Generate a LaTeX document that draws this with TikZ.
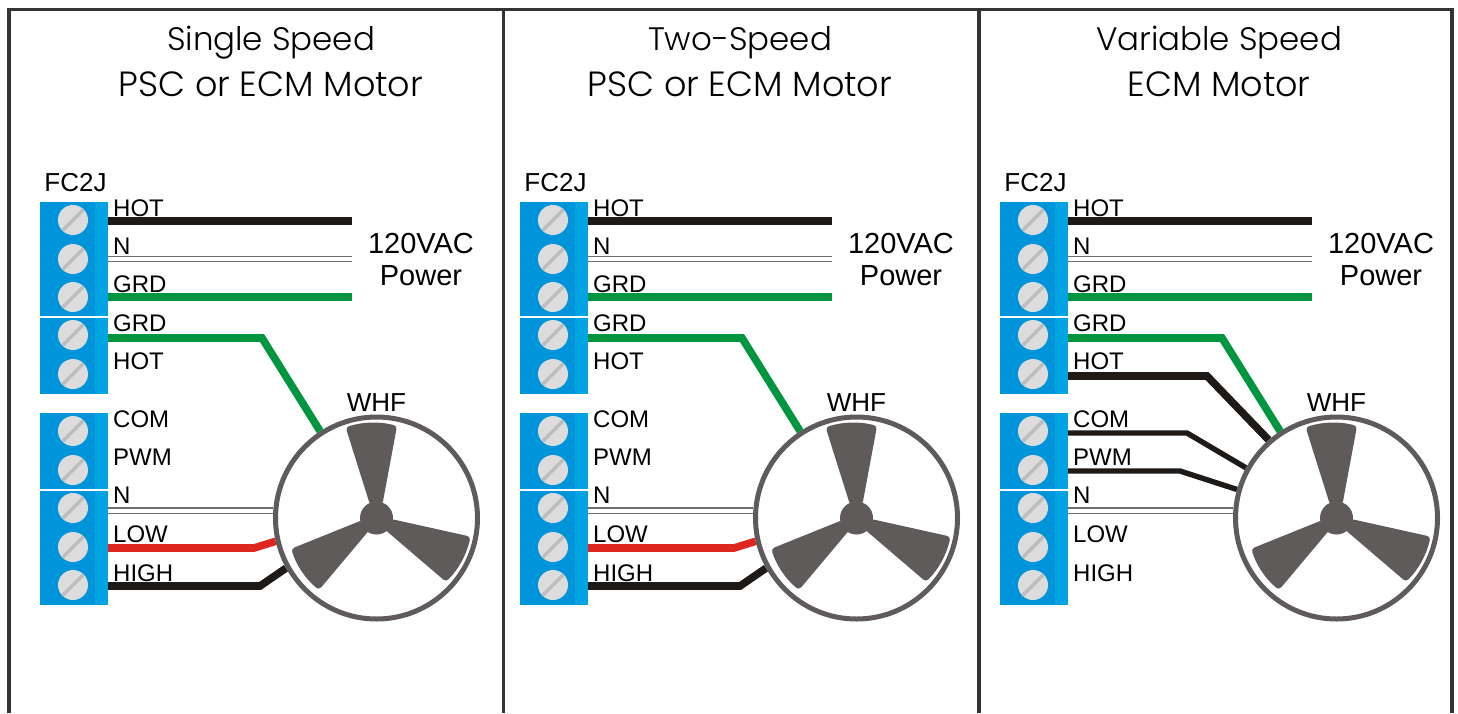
\documentclass[tikz,border=0pt]{standalone}
\usepackage{fontspec}
\setmainfont{Liberation Sans}
\newfontfamily\titlefont{Poppins Light}
\usetikzlibrary{backgrounds}

\definecolor{termblue}{HTML}{0095DA}
\definecolor{termedge}{HTML}{00A4E2}
\definecolor{screwgrey}{HTML}{DCDCDC}
\definecolor{slotgrey}{HTML}{BDBDBD}
\definecolor{fangrey}{HTML}{5F5B5A}
\definecolor{wireblack}{HTML}{1D1A18}
\definecolor{wiregreen}{HTML}{00963F}
\definecolor{wirered}{HTML}{DC261E}

\newcommand{\titletop}{\fontsize{32.5}{44.3}\selectfont}
\newcommand{\titlelow}{\fontsize{35}{44.3}\selectfont}

\tikzset{
    termblock/.style={rectangle, anchor=north west, fill=termblue, inner sep=0pt, outer sep=0pt,
        minimum width=68pt, minimum height=#1,
        path picture={\fill[termedge] ([xshift=-13pt]path picture bounding box.north east)
            rectangle (path picture bounding box.south east);}},
    screw/.style={circle, fill=screwgrey, inner sep=0pt, minimum size=30pt,
        path picture={\draw[slotgrey, line width=3.5pt] (path picture bounding box.south west)
            -- (path picture bounding box.north east);}},
    pinlabel/.style={anchor=base west, inner sep=0pt, font=\fontsize{24}{28}\selectfont},
    boxlabel/.style={anchor=base, inner sep=0pt, font=\fontsize{26}{30}\selectfont},
    powerlabel/.style={anchor=base, inner sep=0pt, align=center, font=\fontsize{29}{32}\selectfont},
    titlelabel/.style={anchor=base, inner sep=0pt, align=center, text=black, font=\titlefont},
    motorring/.style={circle, draw=fangrey, line width=5pt, minimum size=202pt, inner sep=0pt},
    motorhub/.style={circle, fill=fangrey, minimum size=33pt, inner sep=0pt},
    bigwire/.style={line width=7.6pt},
    smallwire/.style={line width=5.4pt, wireblack},
    neutral/.style={draw=gray!85!black, line width=1.5pt, double=white, double distance=3.8pt},
    blade/.pic={
        \filldraw[fangrey, line width=7pt, line join=round]
            (-26.5,-88.5) .. controls (-12,-93) and (4,-93) .. (16.5,-89.5) -- (3,-17) -- (-4,-17) -- cycle;
    },
}

% terminals, labels and fan shared by all three panels
\newcommand{\wiringbase}{
    \node[termblock=114pt] (blockA) at (40,202) {};
    \node[termblock=76pt] (blockB) at (40,317.5) {};
    \node[termblock=76pt] (blockC) at (40,413) {};
    \node[termblock=114pt] (blockD) at (40,490.5) {};
    \foreach \nm/\yy in {a/220,b/259,c/297,d/335,e/374,f/431,g/470,h/508,i/547,j/585}
        \node[screw] (screw\nm) at (73,\yy) {};

    \node[boxlabel] (fctwoj) at (75.5,191.7) {FC2J};
    \node[pinlabel] (hotlabel) at (113,216.5) {HOT};
    \node[pinlabel] (nlabel) at (113,254.3) {N};
    \node[pinlabel] (grdlabel) at (113,292.8) {GRD};
    \node[pinlabel] (grdblabel) at (113,331.5) {GRD};
    \node[pinlabel] (hotblabel) at (113,369.3) {HOT};
    \node[pinlabel] (comlabel) at (113,427.3) {COM};
    \node[pinlabel] (pwmlabel) at (113,465.3) {PWM};
    \node[pinlabel] (nblabel) at (113,503.8) {N};
    \node[pinlabel] (lowlabel) at (113,542.5) {LOW};
    \node[pinlabel] (highlabel) at (113,581.5) {HIGH};
    \node[powerlabel] (power) at (421,285) {120VAC\\Power};
    \node[boxlabel] (whf) at (376.5,411) {WHF};

    \coordinate (hotpin) at (108,221);
    \coordinate (npin) at (108,259);
    \coordinate (grdpin) at (108,297);
    \coordinate (hotend) at (352,221);
    \coordinate (nend) at (352,259);
    \coordinate (grdend) at (352,297);
    \coordinate (grdbpin) at (108,338);
    \coordinate (hotbpin) at (108,376);
    \coordinate (compin) at (108,433);
    \coordinate (pwmpin) at (108,471);
    \coordinate (nbpin) at (108,510.6);
    \coordinate (lowpin) at (108,548);
    \coordinate (highpin) at (108,586);

    \node[motorring] (motor) at (376.5,518) {};
    \foreach \ang/\sz in {0/1,-120/1,-237.5/0.96}
        \pic[shift={(motor.center)}, rotate=\ang, scale=\sz] {blade};
    \node[motorhub] (hub) at (motor.center) {};

    \begin{scope}[on background layer]
        \draw[bigwire, wireblack] (hotpin) -- (hotend);
        \draw[neutral] (npin) -- (nend);
        \draw[bigwire, wiregreen] (grdpin) -- (grdend);
        \draw[neutral] (nbpin) -- (nbpin -| motor.176);
    \end{scope}
}

\begin{document}
\begin{tikzpicture}[x=1pt, y=-1pt]
    \useasboundingbox (0,0) rectangle (1458,713);
    \begin{scope}[on background layer]
        \fill[white] (0,0) rectangle (1458,713);
    \end{scope}

    % frame, open at the bottom
    \draw[line width=3.5pt, black!80] (9,713) -- (9,9.5) -- (1452,9.5) -- (1452,713);
    \draw[line width=3.5pt, black!80] (503.5,9.5) -- (503.5,713);
    \draw[line width=3.5pt, black!80] (979,9.5) -- (979,713);

    \node[titlelabel] (titlea) at (271,96) {\titletop Single Speed\\[11pt]\titlelow PSC or ECM Motor};
    \node[titlelabel] (titleb) at (740,96) {\titletop Two-Speed\\[11pt]\titlelow PSC or ECM Motor};
    \node[titlelabel] (titlec) at (1219,96) {\titletop Variable Speed\\[11pt]\titlelow ECM Motor};

    \begin{scope}[name prefix=a-]
        \wiringbase
        \begin{scope}[on background layer]
            \draw[bigwire, wiregreen] (grdbpin) -- (262,338) -- (motor.123);
            \draw[bigwire, wirered] (lowpin) -- (254,548) -- (motor.193);
            \draw[bigwire, wireblack] (highpin) -- (260,586) -- (motor.209);
        \end{scope}
    \end{scope}

    \begin{scope}[name prefix=b-, shift={(480,0)}]
        \wiringbase
        \begin{scope}[on background layer]
            \draw[bigwire, wiregreen] (grdbpin) -- (262,338) -- (motor.123);
            \draw[bigwire, wirered] (lowpin) -- (254,548) -- (motor.193);
            \draw[bigwire, wireblack] (highpin) -- (260,586) -- (motor.209);
        \end{scope}
    \end{scope}

    \begin{scope}[name prefix=c-, shift={(960,0)}]
        \wiringbase
        \begin{scope}[on background layer]
            \draw[bigwire, wiregreen] (grdbpin) -- (262,338) -- (motor.123);
            \draw[bigwire, wireblack] (hotbpin) -- (247,376) -- (motor.131);
            \draw[smallwire] (compin) -- (227,433) -- (motor.151);
            \draw[smallwire] (pwmpin) -- (220,471) -- (motor.164);
        \end{scope}
    \end{scope}
\end{tikzpicture}
\end{document}
